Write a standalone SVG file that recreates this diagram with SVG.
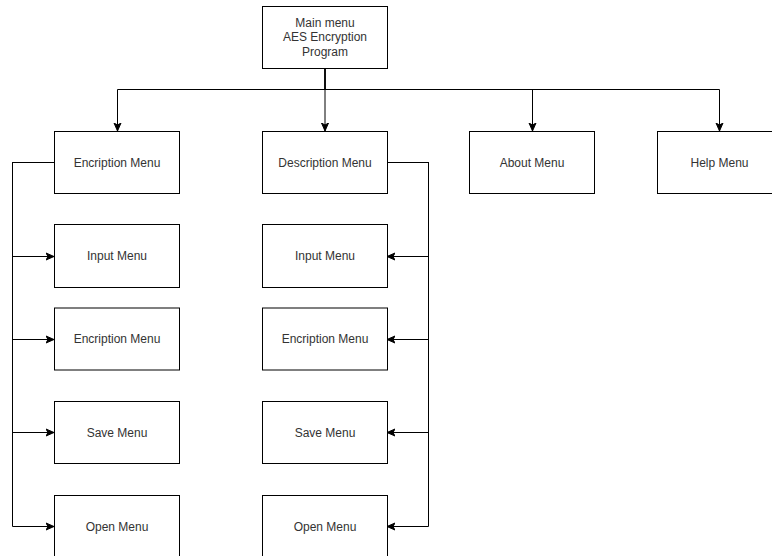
<svg xmlns="http://www.w3.org/2000/svg" width="772" height="556" viewBox="0 0 772 556">
<style>
.box{fill:#fff;stroke:#000;stroke-width:1}
.lbl{font-family:"Liberation Sans",Arial,sans-serif;font-size:12px;fill:#333;text-anchor:middle;dominant-baseline:central}
.edge{fill:none;stroke:#000;stroke-width:1}
</style>
<defs>
<marker id="arr" markerUnits="userSpaceOnUse" markerWidth="10" markerHeight="10" viewBox="0 0 10 10" refX="8" refY="5" orient="auto">
<path d="M0,1.5 L8,5 L0,8.5 L2,5 Z" fill="#000" stroke="#000" stroke-width="1" stroke-linejoin="miter"/>
</marker>
</defs>
<rect width="772" height="556" fill="#fff"/>
<g id="connectors">
<path class="edge" marker-end="url(#arr)" d="M325,69 V89.5 H117.5 V131"/>
<path class="edge" marker-end="url(#arr)" d="M325,69 V131"/>
<path class="edge" marker-end="url(#arr)" d="M325,69 V89.5 H532.5 V131"/>
<path class="edge" marker-end="url(#arr)" d="M325,69 V89.5 H719.5 V131"/>
<path class="edge" marker-end="url(#arr)" d="M54,162.5 H12.5 V256.5 H54"/>
<path class="edge" marker-end="url(#arr)" d="M54,162.5 H12.5 V339.5 H54"/>
<path class="edge" marker-end="url(#arr)" d="M54,162.5 H12.5 V432.5 H54"/>
<path class="edge" marker-end="url(#arr)" d="M54,162.5 H12.5 V526.5 H54"/>
<path class="edge" marker-end="url(#arr)" d="M387,162.5 H428.5 V256.5 H387"/>
<path class="edge" marker-end="url(#arr)" d="M387,162.5 H428.5 V339.5 H387"/>
<path class="edge" marker-end="url(#arr)" d="M387,162.5 H428.5 V432.5 H387"/>
<path class="edge" marker-end="url(#arr)" d="M387,162.5 H428.5 V526.5 H387"/>
</g>
<g id="main"><rect class="box" x="262.5" y="6.5" width="125" height="62"/>
<text class="lbl" x="325" y="22.5">Main menu</text><text class="lbl" x="325" y="37">AES Encryption</text><text class="lbl" x="325" y="51.5">Program</text></g>
<g id="enc"><rect class="box" x="54.5" y="131.5" width="125" height="62"/><text class="lbl" x="117" y="162.5">Encription Menu</text></g>
<g id="dec"><rect class="box" x="262.5" y="131.5" width="125" height="62"/><text class="lbl" x="325" y="162.5">Description Menu</text></g>
<g id="about"><rect class="box" x="469.5" y="131.5" width="125" height="62"/><text class="lbl" x="532" y="162.5">About Menu</text></g>
<g id="help"><rect class="box" x="657.5" y="131.5" width="125" height="62"/><text class="lbl" x="719.5" y="162.5">Help Menu</text></g>
<g id="enc-input"><rect class="box" x="54.5" y="224.5" width="125" height="63"/><text class="lbl" x="117" y="256">Input Menu</text></g>
<g id="enc-enc"><rect class="box" x="54.5" y="308" width="125" height="62"/><text class="lbl" x="117" y="339">Encription Menu</text></g>
<g id="enc-save"><rect class="box" x="54.5" y="401.5" width="125" height="62"/><text class="lbl" x="117" y="432.5">Save Menu</text></g>
<g id="enc-open"><rect class="box" x="54.5" y="495.5" width="125" height="62"/><text class="lbl" x="117" y="526.5">Open Menu</text></g>
<g id="dec-input"><rect class="box" x="262.5" y="224.5" width="125" height="63"/><text class="lbl" x="325" y="256">Input Menu</text></g>
<g id="dec-enc"><rect class="box" x="262.5" y="308" width="125" height="62"/><text class="lbl" x="325" y="339">Encription Menu</text></g>
<g id="dec-save"><rect class="box" x="262.5" y="401.5" width="125" height="62"/><text class="lbl" x="325" y="432.5">Save Menu</text></g>
<g id="dec-open"><rect class="box" x="262.5" y="495.5" width="125" height="62"/><text class="lbl" x="325" y="526.5">Open Menu</text></g>
</svg>
